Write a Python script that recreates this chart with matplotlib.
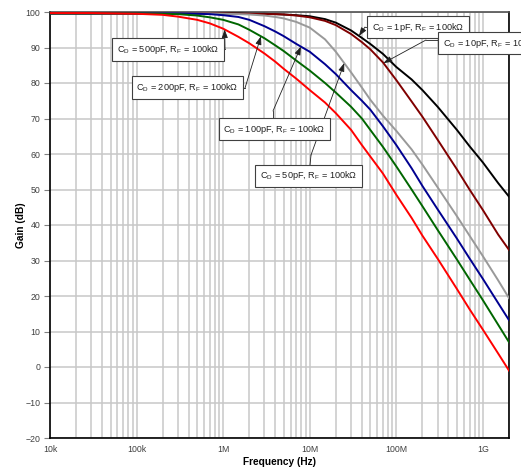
import matplotlib
matplotlib.use("Agg")
import matplotlib.pyplot as plt
import numpy as np
from matplotlib.ticker import FixedLocator, LogLocator, NullFormatter

plt.rcParams['font.family'] = ['Liberation Sans', 'DejaVu Sans']
plt.rcParams['mathtext.fontset'] = 'custom'
plt.rcParams['mathtext.rm'] = 'Liberation Sans'

# frequency points (Hz)
freq = [1e4, 3e4, 1e5, 2e5, 3e5, 5e5, 7e5, 1e6, 1.5e6, 2e6, 3e6, 4e6, 5e6, 7e6,
        1e7, 1.5e7, 2e7, 3e7, 4e7, 5e7, 7e7, 1e8, 1.5e8, 2e8, 3e8, 5e8, 7e8,
        1e9, 1.5e9, 2e9]

# gain (dB) per diode capacitance, RF = 100k
gain_500p = [99.7, 99.7, 99.5, 99.2, 98.7, 97.8, 96.8, 95.3, 93.0, 91.2, 88.3, 86.0, 84.0, 81.2,
             78.0, 74.5, 71.5, 66.8, 62.5, 59.3, 54.5, 48.5, 42.0, 37.0, 30.5, 22.0, 16.3,
             10.5, 3.8, -1.0]
gain_200p = [99.6, 99.6, 99.6, 99.5, 99.4, 99.0, 98.5, 97.8, 96.5, 95.0, 92.6, 90.6, 89.0, 86.3,
             83.5, 80.0, 77.3, 73.3, 70.0, 66.8, 62.0, 56.5, 50.0, 45.3, 38.6, 30.3, 24.7,
             18.8, 11.9, 7.0]
gain_100p = [99.6, 99.6, 99.6, 99.6, 99.6, 99.5, 99.4, 99.1, 98.6, 97.8, 96.0, 94.5, 93.2, 91.0,
             88.8, 85.3, 82.5, 78.0, 75.0, 72.5, 67.8, 62.5, 56.0, 51.0, 44.4, 36.2, 30.6,
             24.8, 18.0, 13.2]
gain_50p = [99.6, 99.6, 99.6, 99.6, 99.6, 99.6, 99.6, 99.5, 99.4, 99.3, 99.0, 98.6, 98.2, 97.2,
            95.6, 92.3, 88.8, 83.0, 78.7, 75.3, 70.8, 66.5, 61.3, 57.0, 50.6, 42.5, 37.0,
            31.2, 24.4, 19.4]
gain_10p = [99.6, 99.6, 99.6, 99.6, 99.6, 99.6, 99.6, 99.6, 99.5, 99.5, 99.4, 99.4, 99.3, 99.0,
            98.5, 97.5, 96.3, 93.8, 91.5, 89.5, 85.8, 80.8, 74.8, 70.5, 64.0, 55.7, 50.0,
            44.2, 37.3, 33.0]
gain_1p = [99.6, 99.6, 99.6, 99.6, 99.6, 99.6, 99.6, 99.6, 99.6, 99.5, 99.5, 99.4, 99.3, 99.1,
           98.8, 98.0, 97.0, 94.8, 92.7, 91.0, 88.2, 84.5, 81.0, 78.0, 73.3, 66.8, 62.2,
           57.6, 51.8, 48.0]

series = [gain_1p, gain_10p, gain_50p, gain_100p, gain_200p, gain_500p]
colors = ['#000000', '#800000', '#999999', '#000090', '#006600', '#ff0000']
labels = ['1pF', '10pF', '50pF', '100pF', '200pF', '500pF']

x_ticks = [1e4, 1e5, 1e6, 1e7, 1e8, 1e9]
x_ticklabels = ['10k', '100k', '1M', '10M', '100M', '1G']
y_ticks = list(range(-20, 101, 10))

W, H = 521, 470
AX_L, AX_R, AX_T, AX_B = 50, 509, 12, 438

fig = plt.figure(figsize=(W/100, H/100), dpi=100)
ax = fig.add_axes([AX_L/W, 1-AX_B/H, (AX_R-AX_L)/W, (AX_B-AX_T)/H])


def px(x, y):
    # picture pixels -> axes fraction
    return ((x-AX_L)/(AX_R-AX_L), (AX_B-y)/(AX_B-AX_T))


for g, c in zip(series, colors):
    ax.plot(freq, g, color=c, lw=1.4, zorder=3)

ax.set_xscale('log')
ax.set_xlim(1e4, 2e9)
ax.set_ylim(-20, 100)
ax.xaxis.set_major_locator(FixedLocator(x_ticks))
ax.set_xticklabels(x_ticklabels)
ax.xaxis.set_minor_locator(LogLocator(base=10, subs=np.arange(2, 10)))
ax.xaxis.set_minor_formatter(NullFormatter())
ax.set_yticks(y_ticks)

ax.grid(True, which='both', axis='x', color='#c8c8c8', lw=1.1)
ax.grid(True, which='major', axis='y', color='#c8c8c8', lw=1.1)
ax.set_axisbelow(True)

ax.tick_params(axis='x', which='both', length=0, labelsize=6.3, colors='#404040', pad=5)
ax.tick_params(axis='y', length=4, width=0.8, color='#808080', labelsize=6.3,
               labelcolor='#404040', pad=3)

for s in ['left', 'bottom', 'right']:
    ax.spines[s].set_color('black')
    ax.spines[s].set_linewidth(1.2)
ax.spines['top'].set_color('#505050')
ax.spines['top'].set_linewidth(1.2)

ax.set_xlabel('Frequency (Hz)', fontsize=7.3, fontweight='bold', labelpad=2)
ax.set_ylabel('Gain (dB)', fontsize=7.3, fontweight='bold')
ax.yaxis.set_label_coords(*px(26, 225))

# callouts: series index, tip frequency, box centre (px), ha, leader start (px), elbow (px)
callouts = [
    (5, 1.04e6, (168, 49.5), 'center', (223, 49), (225, 49)),
    (4, 2.73e6, (187.5, 87.5), 'center', (238, 88), (245, 88)),
    (3, 7.9e6, (274.5, 129), 'center', (273, 118), (273, 111)),
    (2, 2.5e7, (308.5, 176), 'center', (310, 165), (311, 155)),
    (0, 3.7e7, (418, 27), 'center', (372, 27), (365, 27)),
    (1, 7.1e7, (443, 43), 'left', (439, 40), (426, 40)),
]
lf = np.log10(freq)
for idx, ftip, pos, ha, start, elbow in callouts:
    ytip = np.interp(np.log10(ftip), lf, series[idx])
    txt = r'C$_\mathregular{D}$ = ' + labels[idx] + r', R$_\mathregular{F}$ = 100k$\Omega$'
    ax.text(*px(*pos), txt, transform=ax.transAxes, ha=ha, va='center',
            fontsize=6.6, color='#202020', zorder=6, clip_on=False,
            bbox=dict(boxstyle='square,pad=0.5', fc='white', ec='#404040', lw=0.8))
    s0, e0 = px(*start), px(*elbow)
    ax.plot([s0[0], e0[0]], [s0[1], e0[1]], transform=ax.transAxes, color='#202020',
            lw=0.6, zorder=5, clip_on=False)
    ax.annotate('', xy=(ftip, ytip), xycoords='data', xytext=e0, textcoords='axes fraction',
                annotation_clip=False, zorder=5,
                arrowprops=dict(arrowstyle='-|>,head_length=0.5,head_width=0.18',
                                color='#202020', lw=0.6, shrinkA=0, shrinkB=0))

fig.savefig('out.png', dpi=100)
